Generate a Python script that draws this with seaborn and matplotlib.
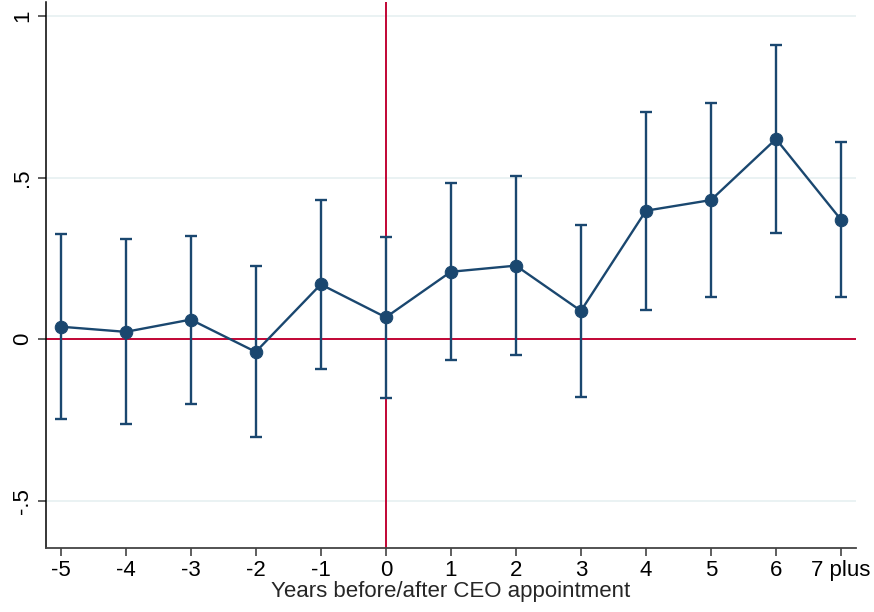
import matplotlib
matplotlib.use("Agg")
import matplotlib.pyplot as plt
import seaborn as sns
import pandas as pd

# Event-time coefficients with 95% confidence bounds
event_time = [-5, -4, -3, -2, -1, 0, 1, 2, 3, 4, 5, 6, 7]
tick_labels = ["-5", "-4", "-3", "-2", "-1", "0", "1", "2", "3", "4", "5", "6", "7 plus"]
coef = [0.039, 0.023, 0.061, -0.039, 0.170, 0.068, 0.209, 0.228, 0.088, 0.398, 0.431, 0.620, 0.370]
ci_low = [-0.248, -0.262, -0.199, -0.303, -0.092, -0.181, -0.065, -0.048, -0.180, 0.092, 0.132, 0.330, 0.132]
ci_high = [0.327, 0.310, 0.320, 0.227, 0.431, 0.318, 0.484, 0.505, 0.355, 0.704, 0.731, 0.912, 0.610]

y_ticks = [-0.5, 0, 0.5, 1]
y_tick_labels = ["-.5", "0", ".5", "1"]

navy = "#1a476f"
cranberry = "#c10534"
grid_col = "#eaf2f3"

sns.set_theme(style="white")
plt.rcParams["font.family"] = ["Liberation Sans", "DejaVu Sans"]

df = pd.DataFrame({"t": event_time, "b": coef, "lo": ci_low, "hi": ci_high})

fig = plt.figure(figsize=(8.74, 6.12), dpi=100)
ax = fig.add_axes([0.0526, 0.1046, 0.9268, 0.8921])

# Reference lines
for yt in y_ticks:
    if yt != 0:
        ax.axhline(yt, color=grid_col, lw=1.4, zorder=0)
ax.axhline(0, color=cranberry, lw=1.4, zorder=1)
ax.axvline(0, color=cranberry, lw=1.4, zorder=1)

# Confidence intervals
ax.errorbar(df["t"], df["b"],
            yerr=[df["b"] - df["lo"], df["hi"] - df["b"]],
            fmt="none", ecolor=navy, elinewidth=1.7, capsize=4, capthick=1.7, zorder=2)

# Point estimates connected
sns.lineplot(data=df, x="t", y="b", color=navy, lw=1.7, marker="o",
             markersize=9, markeredgecolor=navy, markerfacecolor=navy,
             ax=ax, zorder=3)

ax.set_xlim(-5.226, 7.23)
ax.set_ylim(-0.646, 1.044)
ax.set_xticks(event_time)
ax.set_xticklabels(tick_labels, fontsize=16)
ax.set_yticks(y_ticks)
ax.set_yticklabels(y_tick_labels, fontsize=16, rotation=90, va="center")
ax.set_xlabel("Years before/after CEO appointment", fontsize=16, labelpad=0)
ax.set_ylabel("")

for side in ["top", "right"]:
    ax.spines[side].set_visible(False)
ax.spines["left"].set_color("#000000")
ax.spines["left"].set_linewidth(1.1)
ax.spines["bottom"].set_color("#444444")
ax.spines["bottom"].set_linewidth(1.3)
ax.tick_params(axis="both", which="major", direction="out", length=6, width=1.1,
               color="#333333", bottom=True, left=True, pad=3, labelcolor="black")

fig.savefig("out.png", dpi=100)
